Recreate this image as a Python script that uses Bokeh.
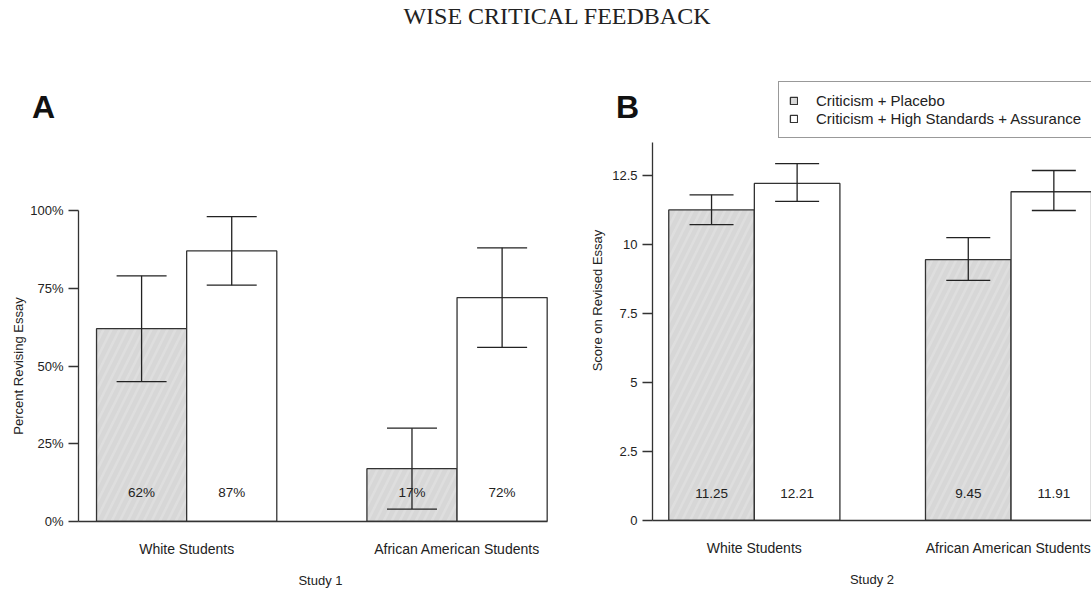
from bokeh.plotting import figure
from bokeh.models import (Range1d, FixedTicker, Whisker, TeeHead, ColumnDataSource,
                          Legend, LegendItem, Div)
from bokeh.layouts import column, row
from bokeh.embed import file_html
from bokeh.resources import INLINE
from bokeh.core.properties import value

# ---------------- data ----------------
groups = ["White Students", "African American Students"]
conditions = ["Criticism + Placebo", "Criticism + High Standards + Assurance"]

s1_placebo = [62, 17]
s1_placebo_lo = [45, 4]
s1_placebo_hi = [79, 30]
s1_wise = [87, 72]
s1_wise_lo = [76, 56]
s1_wise_hi = [98, 88]
s1_ticks = [0, 25, 50, 75, 100]
s1_tick_labels = ["0%", "25%", "50%", "75%", "100%"]

s2_placebo = [11.25, 9.45]
s2_placebo_lo = [10.72, 8.70]
s2_placebo_hi = [11.80, 10.25]
s2_wise = [12.21, 11.91]
s2_wise_lo = [11.56, 11.23]
s2_wise_hi = [12.93, 12.68]
s2_ticks = [0, 2.5, 5, 7.5, 10, 12.5]
s2_tick_labels = ["0", "2.5", "5", "7.5", "10", "12.5"]

# ---------------- style ----------------
FONT = "Liberation Sans"
INK = "#222222"
EDGE = "#333333"
GRAY = "#d7d7d7"


def make_panel(width, border_left, border_right, border_top, border_bottom, x_end, y_end,
               y_bound, left_pad, placebo, p_lo, p_hi, wise, w_lo, w_hi, ticks, tick_labels,
               ylabel, ylabel_standoff, xlabel, fmt, label_y, cap):
    p = figure(width=width, height=560, x_range=Range1d(0, x_end), y_range=Range1d(0, y_end),
               output_backend="svg", toolbar_location=None,
               min_border_left=border_left, min_border_right=border_right,
               min_border_top=border_top, min_border_bottom=border_bottom,
               outline_line_color=None, background_fill_color="white",
               border_fill_color="white", frame_align=False)
    p.xgrid.visible = False
    p.ygrid.visible = False

    xs_p = [left_pad + 0.5 + 3 * i for i in range(len(groups))]
    xs_w = [left_pad + 1.5 + 3 * i for i in range(len(groups))]
    centers = [round(left_pad + 1.0 + 3 * i, 4) for i in range(len(groups))]

    r_p = p.vbar(x=xs_p, top=placebo, bottom=0, width=1, fill_color=GRAY,
                 line_color=EDGE, line_width=1.3, hatch_pattern="/",
                 hatch_color="#e6e6e6", hatch_scale=16, hatch_weight=2.5, hatch_alpha=0.45)
    r_w = p.vbar(x=xs_w, top=wise, bottom=0, width=1, fill_color="white",
                 line_color=EDGE, line_width=1.3)

    p.text(x=xs_p + xs_w, y=[label_y] * 4,
           text=[fmt(v) for v in placebo + wise],
           text_font=value(FONT), text_font_size="13.5px", text_align="center",
           text_baseline="middle", text_color=INK)

    for xs, lo, hi in ((xs_p, p_lo, p_hi), (xs_w, w_lo, w_hi)):
        src = ColumnDataSource(dict(base=xs, lower=lo, upper=hi))
        p.add_layout(Whisker(base="base", lower="lower", upper="upper", source=src,
                             dimension="height", line_color=INK, line_width=1.3,
                             level="overlay",
                             upper_head=TeeHead(size=cap, line_color=INK, line_width=1.3),
                             lower_head=TeeHead(size=cap, line_color=INK, line_width=1.3)))

    ya = p.yaxis[0]
    ya.ticker = FixedTicker(ticks=ticks)
    ya.major_label_overrides = dict(zip(ticks, tick_labels))
    ya.bounds = (0, y_bound)
    ya.major_tick_out = 10
    ya.major_tick_in = 0
    ya.minor_tick_line_color = None
    ya.major_label_standoff = 5
    ya.axis_label = ylabel
    ya.axis_label_standoff = ylabel_standoff
    ya.axis_label_text_font = FONT
    ya.axis_label_text_font_style = "normal"
    ya.axis_label_text_font_size = "13px"
    ya.axis_label_text_color = INK
    ya.major_label_text_font = FONT
    ya.major_label_text_font_size = "13px"
    ya.major_label_text_color = INK
    ya.axis_line_color = EDGE
    ya.axis_line_width = 1.3
    ya.major_tick_line_color = EDGE
    ya.major_tick_line_width = 1.3

    xa = p.xaxis[0]
    xa.ticker = FixedTicker(ticks=centers)
    xa.major_label_overrides = dict(zip(centers, groups))
    xa.major_tick_line_color = None
    xa.minor_tick_line_color = None
    xa.major_label_standoff = 13
    xa.axis_label = xlabel
    xa.axis_label_standoff = 13
    xa.axis_label_text_font = FONT
    xa.axis_label_text_font_style = "normal"
    xa.axis_label_text_font_size = "13px"
    xa.axis_label_text_color = INK
    xa.major_label_text_font = FONT
    xa.major_label_text_font_size = "14px"
    xa.major_label_text_color = INK
    xa.axis_line_color = EDGE
    xa.axis_line_width = 1.3
    return p, r_p, r_w


pA, _, _ = make_panel(578, 78, 16, 180, 69, 5.37, 100, 100, 0.2,
                      s1_placebo, s1_placebo_lo, s1_placebo_hi,
                      s1_wise, s1_wise_lo, s1_wise_hi, s1_ticks, s1_tick_labels,
                      "Percent Revising Essay", 1, "Study 1", lambda v: f"{v:.0f}%", 9.3, 50)
pA.xaxis[0].bounds = (0, 5.2)

pB, rbp, rbw = make_panel(513, 74, 0, 50, 70, 5.13, 15.94, 13.7, 0.19,
                          s2_placebo, s2_placebo_lo, s2_placebo_hi,
                          s2_wise, s2_wise_lo, s2_wise_hi, s2_ticks, s2_tick_labels,
                          "Score on Revised Essay", 4, "Study 2", lambda v: f"{v:.2f}", 0.98, 44)

legend = Legend(items=[LegendItem(label=conditions[0], renderers=[rbp]),
                       LegendItem(label=conditions[1], renderers=[rbw])],
                location=(126, 382), orientation="vertical",
                glyph_width=9, glyph_height=9, label_standoff=18, padding=10,
                spacing=1, label_height=17, label_text_font=FONT,
                label_text_font_size="15px", label_text_color=INK,
                border_line_color=EDGE, border_line_width=1.2,
                background_fill_color="white", background_fill_alpha=1.0)
pB.add_layout(legend, "center")

letter_css = ("position:absolute;z-index:10;font-family:'Liberation Sans',sans-serif;"
              "font-weight:bold;font-size:32px;line-height:32px;color:#111111;")
title_html = (
    '<div style="position:relative;width:1068px;height:30px;overflow:visible;">'
    '<div style="padding-top:4px;line-height:24px;font-family:\'Liberation Serif\',serif;'
    'font-size:24px;color:#222222;text-align:center;">WISE CRITICAL FEEDBACK</div>'
    f'<span style="{letter_css}left:9px;top:91px;">A</span>'
    f'<span style="{letter_css}left:593px;top:91px;">B</span>'
    '</div>'
)
title = Div(text=title_html, width=1068, height=30, margin=(0, 0, 0, 23),
            styles={"overflow": "visible", "z-index": "10"})

layout = column(title, row(pA, pB, spacing=0), spacing=0)

open("out.html", "w").write(file_html(layout, INLINE))
